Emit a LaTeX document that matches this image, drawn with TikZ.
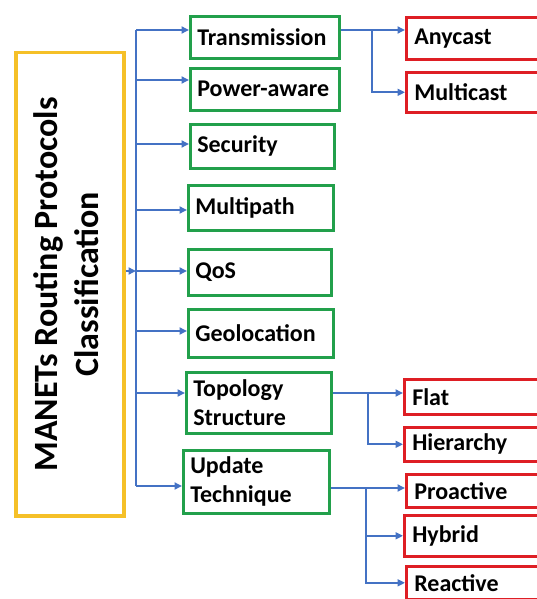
\documentclass[tikz,border=0pt]{standalone}
\usepackage{fontspec}
\usepackage{graphicx}
\setmainfont{Carlito}
\usetikzlibrary{arrows.meta,positioning,calc}
\definecolor{boxgreen}{RGB}{34,160,75}
\definecolor{boxred}{RGB}{222,30,36}
\definecolor{boxyellow}{RGB}{245,192,40}
\definecolor{linkblue}{RGB}{68,114,196}

\begin{document}
\begin{tikzpicture}[x=1pt,y=-1pt,
    mainbox/.style={draw=boxyellow, line width=3.5pt, anchor=north west, inner sep=0pt,
        font=\bfseries\fontsize{34}{41}\selectfont},
    catbox/.style={draw=boxgreen, line width=2.6pt, anchor=north west, inner xsep=7pt,
        inner ysep=2pt, align=left, font=\bfseries\fontsize{24}{29}\selectfont},
    leafbox/.style={draw=boxred, line width=2.6pt, anchor=north west, inner xsep=8pt,
        inner ysep=1pt, align=left, minimum width=150pt, text width=134pt,
        font=\bfseries\fontsize{24}{29}\selectfont},
    link/.style={draw=linkblue, line width=1.8pt},
    arr/.style={link, -{Triangle[length=7.5pt,width=7pt]}}]
    \useasboundingbox (0,0) rectangle (537,599);

    % Root
    \node [mainbox, minimum width=108pt, minimum height=463pt] (main) at (14,51)
        {\rotatebox{90}{\begin{tabular}{@{}c@{}}MANETs Routing Protocols\\Classification\end{tabular}}};

    % Categories, hooked on the trunk
    \foreach \nm/\x/\y/\w/\h/\ay/\txt in {
        trans/189/15/149/42/30/Transmission,
        power/189/67/149/42/80/Power-aware,
        sec/189/123/144/44/144/Security,
        multi/187/184/145/45/210/Multipath,
        qos/187/248/143/46/271/QoS,
        geo/187/308/145/48/331/Geolocation,
        topo/185/371/145/61/393/{Topology\\Structure},
        upd/182/449/146/63/486/{Update\\Technique}}
    {
        \pgfmathsetmacro\tw{\w-14}
        \node [catbox, minimum width=\w pt, text width=\tw pt, minimum height=\h pt] (\nm) at (\x,\y) {\txt};
        \coordinate (t-\nm) at (136,\ay);
        \draw [arr] (t-\nm) -- (t-\nm -| \nm.west);
    }
    \draw [link] (t-trans) -- (t-upd);
    \draw [arr] (main.east |- t-qos) -- (t-qos);

    % Leaves
    \node [leafbox, minimum height=42pt] (any) at (405,16) {Anycast};
    \node [leafbox, minimum height=40pt] (mcast) at (405,71) {Multicast};
    \node [leafbox, minimum height=35pt] (flat) at (403,378) {Flat};
    \node [leafbox, minimum height=34pt] (hier) at (403,426) {Hierarchy};
    \node [leafbox, minimum height=33pt] (pro) at (405,473) {Proactive};
    \node [leafbox, minimum height=41pt] (hyb) at (403,514) {Hybrid};
    \node [leafbox, minimum height=33pt] (rea) at (405,565) {Reactive};

    % Branches
    \coordinate (b-trans) at (372,30);
    \coordinate (b-topo) at (368,393);
    \coordinate (b-upd) at (366,488);
    \draw [arr] (trans.east |- b-trans) -- (b-trans -| any.west);
    \draw [arr] (b-trans) |- (mcast.west);
    \draw [arr] (topo.east |- b-topo) -- (b-topo -| flat.west);
    \draw [arr] (b-topo) |- (hier.west);
    \draw [arr] (upd.east |- b-upd) -- (b-upd -| pro.west);
    \draw [arr] (b-upd) |- (hyb.west);
    \draw [arr] (b-upd) |- (rea.west);
\end{tikzpicture}
\end{document}
